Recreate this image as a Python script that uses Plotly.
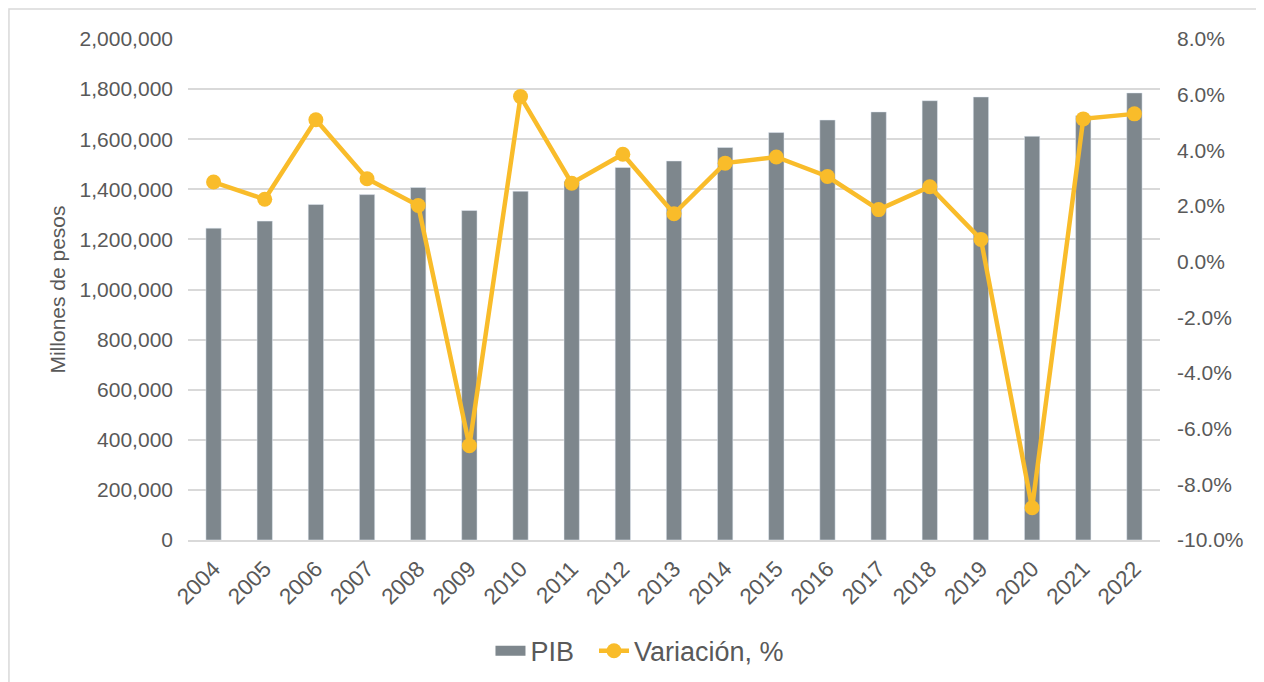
import plotly.graph_objects as go

years = [str(y) for y in range(2004, 2023)]
pib = [1245000, 1273000, 1339600, 1378900, 1407300, 1315300, 1392400, 1432000,
       1487000, 1513000, 1567000, 1626500, 1676600, 1709000, 1753700, 1768600,
       1611600, 1693800, 1784800]
variacion = [2.86, 2.24, 5.10, 2.98, 2.02, -6.61, 5.93, 2.82, 3.86, 1.72,
             3.54, 3.76, 3.06, 1.87, 2.69, 0.80, -8.84, 5.13, 5.31]

pct_ticks = [-10, -8, -6, -4, -2, 0, 2, 4, 6, 8]
pct_labels = [f"{v:.1f}%" for v in pct_ticks]

BAR = "#7E878D"
LINE = "#F9BC2A"
GRID = "#D9D9D9"
TXT = "#595959"
FONT = "Liberation Sans, Arial, sans-serif"

fig = go.Figure()
fig.add_trace(go.Bar(x=years, y=pib, name="PIB", marker_color=BAR, yaxis="y",
                     showlegend=False))
# legend stand-in so PIB shows a wide block like the original
fig.add_trace(go.Scatter(x=years[:1], y=[None], name="PIB\u00a0\u00a0", mode="lines",
                         line=dict(color=BAR, width=14)))
fig.add_trace(go.Scatter(
    x=years, y=variacion, name="Variación, %", yaxis="y2",
    mode="lines+markers", line=dict(color=LINE, width=4.5),
    marker=dict(color=LINE, size=15),
))

# page body has an 8px margin, so the figure is shifted by that much
fig.update_layout(
    width=1256, height=674,
    margin=dict(l=180, r=104, t=31, b=142, autoexpand=False),
    paper_bgcolor="white", plot_bgcolor="white",
    font=dict(family=FONT, size=21, color=TXT),
    bargap=0.70,
    showlegend=True,
    legend=dict(orientation="h", x=0.465, xanchor="center", y=-0.222,
                yanchor="middle", font=dict(size=27, color=TXT),
                traceorder="normal"),
    xaxis=dict(type="category", tickangle=-45, showgrid=False,
               range=[-0.5, len(years) - 0.5],
               showline=True, linecolor=GRID, linewidth=1.5,
               ticks="", ticklabelstandoff=5, tickfont=dict(size=22.5)),
    yaxis=dict(range=[0, 2000000], dtick=200000, tickformat=",d",
               showgrid=True, gridcolor=GRID, gridwidth=1.5, zeroline=False,
               ticklabelstandoff=14, tickfont=dict(size=21),
               title=dict(text="Millones de pesos", font=dict(size=21, color=TXT),
                          standoff=8)),
    yaxis2=dict(overlaying="y", side="right", range=[-10, 8],
                tickvals=pct_ticks, ticktext=pct_labels, showgrid=False,
                zeroline=False, ticklabelstandoff=16, tickfont=dict(size=21)),
    shapes=[dict(type="rect", xref="paper", yref="paper",
                 x0=-0.1842, x1=1.1049, y0=-0.32, y1=1.0599,
                 line=dict(color=GRID, width=1.5), layer="below")],
)

fig.write_html("out.html")
